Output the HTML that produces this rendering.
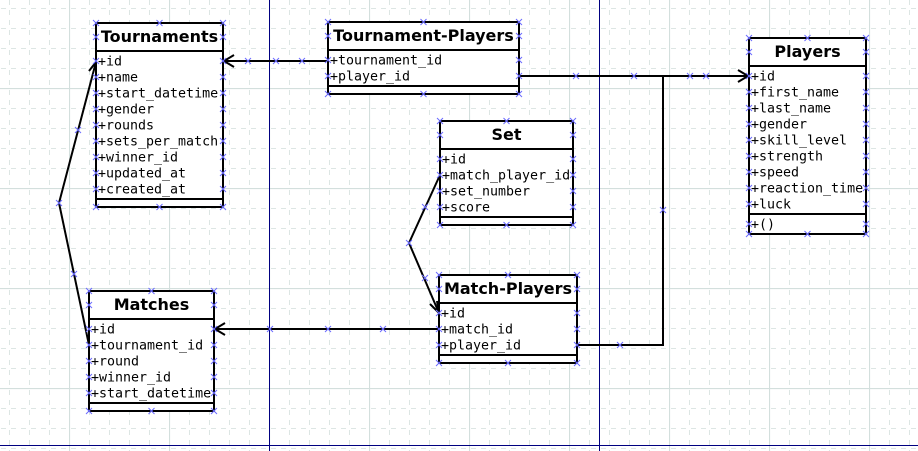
<!DOCTYPE html>
<html><head><meta charset="utf-8"><style>
html,body{margin:0;padding:0;background:#fff;width:918px;height:451px;overflow:hidden}
svg{display:block}
.h{font-family:"DejaVu Sans","Liberation Sans",sans-serif;font-weight:bold;font-size:16px;text-anchor:middle}
.r{font-family:"DejaVu Sans Mono","Liberation Mono",monospace;font-size:13.3px}
</style></head><body>
<svg id="s" width="918" height="451" xmlns="http://www.w3.org/2000/svg">
<defs>
<pattern id="minor" x="9" y="8" width="20" height="20" patternUnits="userSpaceOnUse">
<path d="M0.5 2V20M2 0.5H20" stroke="#dde6e4" stroke-width="1" stroke-dasharray="5 5" fill="none"/>
</pattern>
<pattern id="major" x="69" y="88" width="100" height="100" patternUnits="userSpaceOnUse">
<path d="M0.5 0V100M0 0.5H100" stroke="#d3dfdd" stroke-width="1.2" fill="none"/>
</pattern>
</defs>
<rect width="918" height="451" fill="url(#minor)"/>
<rect width="918" height="451" fill="url(#major)"/>
<path d="M269.5 0V451M599.5 0V451M0 445.5H918" stroke="#000080" stroke-width="1"/>
<g id="lines" stroke="#000" stroke-width="2" fill="none">
<path d="M328 61H224"/><path d="M234 55L224 61L234 67"/>
<path d="M519 76H748"/><path d="M738 70L748 76L738 82"/>
<path d="M577 345H663V76"/>
<path d="M439 329H215"/><path d="M225 323L215 329L225 335"/>
<path d="M440 175L409 243L439 313"/><path d="M430 304L439 313L437 301"/>
<path d="M89 345L59 203L96 62"/><path d="M89 71L96 62L97 74"/>
</g>
<g id="ents"></g>
<g id="marks" stroke="#6b6bff" stroke-width="1" fill="none"></g>
</svg>
<script>
var E=[
{x:96,y:23,w:127,hl:51,t:"Tournaments",rows:["+id","+name","+start_datetime","+gender","+rounds","+sets_per_match","+winner_id","+updated_at","+created_at"],sep:199,b:207},
{x:328,y:22,w:191,hl:50,t:"Tournament-Players",rows:["+tournament_id","+player_id"],sep:86,b:94},
{x:749,y:38,w:117,hl:66,t:"Players",rows:["+id","+first_name","+last_name","+gender","+skill_level","+strength","+speed","+reaction_time","+luck"],sep:214,b:234,extra:"+()"},
{x:440,y:121,w:133,hl:149,t:"Set",rows:["+id","+match_player_id","+set_number","+score"],sep:217,b:225},
{x:439,y:275,w:138,hl:303,t:"Match-Players",rows:["+id","+match_id","+player_id"],sep:355,b:363},
{x:89,y:291,w:125,hl:319,t:"Matches",rows:["+id","+tournament_id","+round","+winner_id","+start_datetime"],sep:403,b:411}
];
var ns="http://www.w3.org/2000/svg",g=document.getElementById("ents"),m=document.getElementById("marks");
function el(tag,a,txt){var e=document.createElementNS(ns,tag);for(var k in a)e.setAttribute(k,a[k]);if(txt)e.textContent=txt;return e;}
function mk(x,y){m.appendChild(el("path",{d:"M"+(x-3)+" "+(y-3)+"L"+(x+3)+" "+(y+3)+"M"+(x+3)+" "+(y-3)+"L"+(x-3)+" "+(y+3)}));}
E.forEach(function(e){
 var x2=e.x+e.w;
 g.appendChild(el("rect",{x:e.x,y:e.y,width:e.w,height:e.b-e.y,fill:"#fff",stroke:"#000","stroke-width":2}));
 g.appendChild(el("line",{x1:e.x,x2:x2,y1:e.hl,y2:e.hl,stroke:"#000","stroke-width":2}));
 g.appendChild(el("line",{x1:e.x,x2:x2,y1:e.sep,y2:e.sep,stroke:"#000","stroke-width":2}));
 g.appendChild(el("text",{x:e.x+e.w/2,y:e.hl-9,"class":"h"},e.t));
 var ys=[(e.y+e.hl)/2];
 e.rows.forEach(function(r,i){var cy=e.hl+10+16*i;ys.push(cy);g.appendChild(el("text",{x:e.x+2,y:cy+4.5,"class":"r"},r));});
 if(e.extra){var cy=e.sep+10;ys.push(cy);g.appendChild(el("text",{x:e.x+2,y:cy+4.5,"class":"r"},e.extra));}
 [e.y,e.b].forEach(function(yy){mk(e.x,yy);mk(x2,yy);mk(e.x+e.w/2,yy);});
 ys.forEach(function(yy){mk(e.x,yy);mk(x2,yy);});
});
[[248,61],[276,61],[302,61],[576,76],[634,76],[690,76],[706,76],[620,345],[663,210],[383,329],[328,329],[270,329],[425,207],[425,278],[409,243],[59,203],[78,130],[74,274]].forEach(function(p){mk(p[0],p[1]);});
</script>
</body></html>
